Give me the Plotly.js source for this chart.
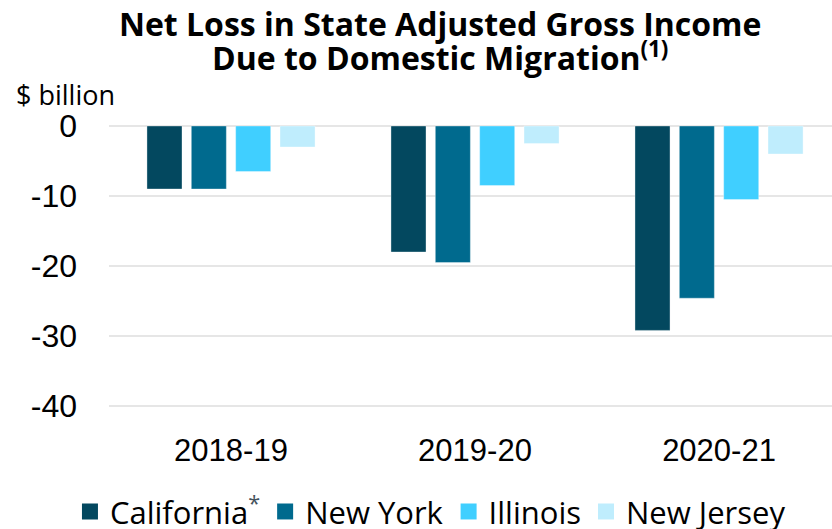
<!DOCTYPE html>
<html>
<head>
<meta charset="utf-8">
<script src="https://cdn.plot.ly/plotly-3.0.1.min.js"></script>
<style>html,body{margin:0;padding:0;background:#fff;}#chart{width:832px;height:529px;}</style>
</head>
<body>
<div id="chart"></div>
<script>
const years = ["2018-19", "2019-20", "2020-21"];
const states = ["California", "New York", "Illinois", "New Jersey"];
const legendNames = ["California<sup><span style=\"color:#44525c\">*</span></sup>", "New York", "Illinois", "New Jersey"];
const california = [-9, -18, -29.2];
const newYork = [-9, -19.5, -24.6];
const illinois = [-6.5, -8.5, -10.5];
const newJersey = [-3, -2.5, -4];
const colors = ["#03485F", "#006A8E", "#40CFFF", "#BFEDFD"];
const yTicks = [0, -10, -20, -30, -40];
const titleLine1 = "Net Loss in State Adjusted Gross Income";
const titleLine2 = "Due to Domestic Migration<sup>(1)</sup>";
const unitLabel = "$ billion";

const series = [california, newYork, illinois, newJersey];
const traces = series.map((vals, i) => ({
  type: "bar",
  x: years,
  y: vals,
  name: legendNames[i],
  legendgroup: states[i],
  showlegend: false,
  marker: {color: colors[i], line: {color: "rgba(255,255,255,0.35)", width: 1}},
  hoverinfo: "skip"
}));
// legend entries (larger square swatches), no data drawn
series.forEach((vals, i) => {
  traces.push({
    type: "scatter",
    mode: "markers",
    x: [null],
    y: [null],
    name: legendNames[i],
    legendgroup: states[i],
    showlegend: true,
    marker: {color: colors[i], symbol: "square", size: 19},
    hoverinfo: "skip"
  });
});

const titleFont = {family: "Open Sans, sans-serif", size: 32, color: "#000000", weight: 700};

const layout = {
  width: 832,
  height: 529,
  margin: {l: 109, r: 0, t: 119, b: 109, pad: 0, autoexpand: false},
  paper_bgcolor: "#ffffff",
  plot_bgcolor: "#ffffff",
  barmode: "group",
  bargap: 0.273,
  bargroupgap: 0.21,
  font: {family: "Liberation Sans, Arial, sans-serif", color: "#000000"},
  title: {
    text: "<b>" + titleLine1 + "</b>",
    font: titleFont,
    x: 0.529, xref: "container", xanchor: "center",
    y: 1 - 36 / 529, yref: "container", yanchor: "bottom"
  },
  xaxis: {
    type: "category",
    range: [-0.5, 2.463],
    showgrid: false,
    zeroline: false,
    showline: false,
    ticks: "",
    ticklabelstandoff: 9,
    tickfont: {size: 31, family: "Liberation Sans, Arial, sans-serif", color: "#000000"}
  },
  yaxis: {
    range: [-42, 1],
    tickvals: yTicks,
    ticktext: yTicks.map(String),
    showgrid: true,
    gridcolor: "#e6e6e6",
    gridwidth: 2,
    zeroline: false,
    showline: false,
    ticks: "",
    ticklabelstandoff: 31,
    tickfont: {size: 32, family: "Liberation Sans, Arial, sans-serif", color: "#000000"}
  },
  showlegend: true,
  legend: {
    orientation: "h",
    x: -0.054, xanchor: "left",
    y: -0.305, yanchor: "middle",
    font: {size: 31, family: "Open Sans, sans-serif", color: "#000000"},
    itemclick: false,
    itemsizing: "trace",
    traceorder: "normal",
    bgcolor: "rgba(0,0,0,0)"
  },
  annotations: [{
    text: "<b>" + titleLine2 + "</b>",
    xref: "paper", yref: "paper",
    x: (440 - 109) / 723, xanchor: "center",
    y: (420 - 81) / 301, yanchor: "bottom",
    showarrow: false,
    font: titleFont
  }, {
    text: unitLabel,
    xref: "paper", yref: "paper",
    x: (14 - 109) / 723, xanchor: "left",
    y: (420 - 95) / 301, yanchor: "middle",
    showarrow: false,
    font: {size: 27, family: "Open Sans, sans-serif", color: "#000000"}
  }]
};

Plotly.newPlot("chart", traces, layout, {staticPlot: true, displayModeBar: false});
</script>
</body>
</html>
